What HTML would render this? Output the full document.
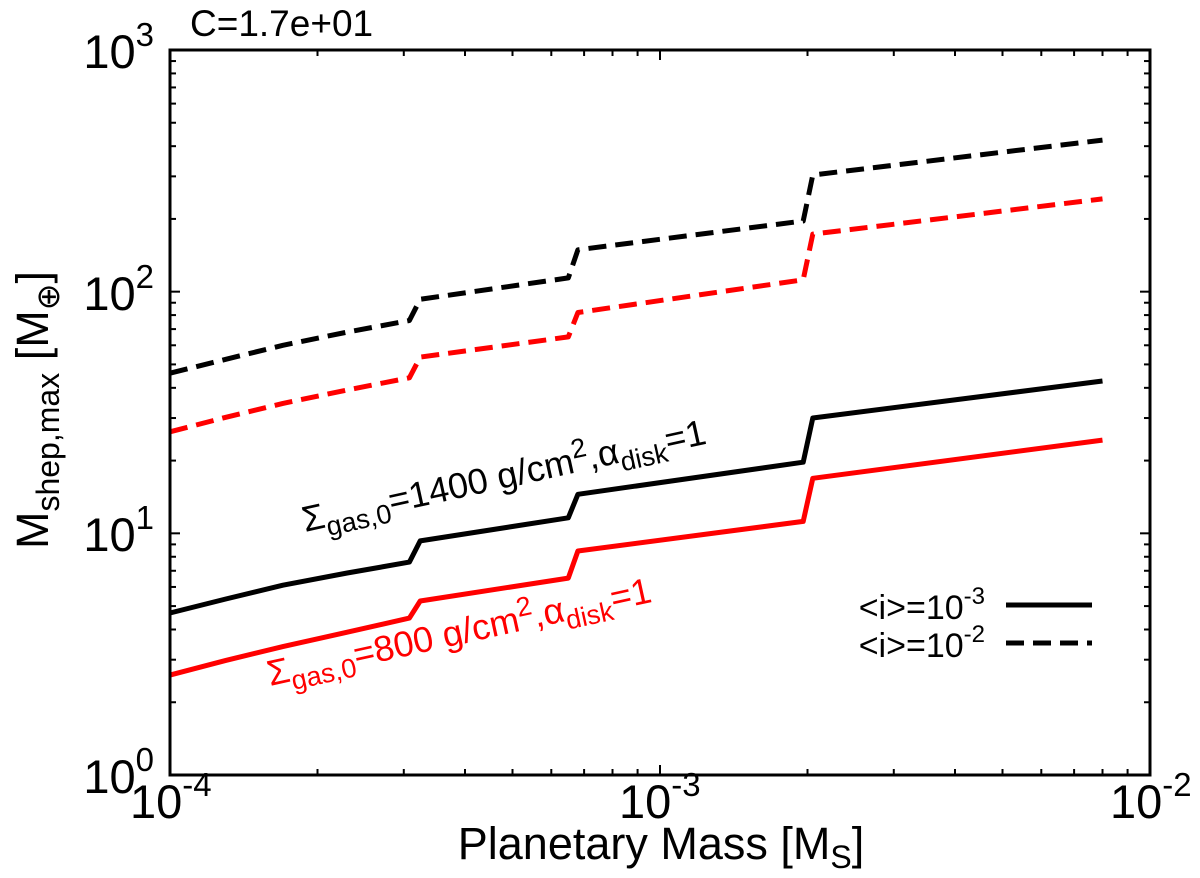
<!DOCTYPE html>
<html><head><meta charset="utf-8"><style>
html,body{margin:0;padding:0;background:#fff;}
svg{display:block;font-family:"Liberation Sans",Arial,sans-serif;}
</style></head><body>
<svg id="chart" width="1200" height="878" viewBox="0 0 1200 878">
<g id="ticks"></g>
<g id="series"></g>
<rect x="170" y="50" width="980" height="725" fill="none" stroke="#000" stroke-width="3"/>
<text x="190" y="36" font-size="37">C=1.7e+01</text>
<g font-size="47" text-anchor="end">
<text x="154" y="68">10<tspan dy="-22" font-size="33">3</tspan></text>
<text x="154" y="310">10<tspan dy="-22" font-size="33">2</tspan></text>
<text x="154" y="551">10<tspan dy="-22" font-size="33">1</tspan></text>
<text x="154" y="793">10<tspan dy="-22" font-size="33">0</tspan></text>
</g>
<g font-size="47">
<text x="130" y="818">10<tspan dy="-22" font-size="33">-4</tspan></text>
<text x="619" y="818">10<tspan dy="-22" font-size="33">-3</tspan></text>
<text x="1110" y="818">10<tspan dy="-22" font-size="33">-2</tspan></text>
</g>
<text x="661" y="859" font-size="45" text-anchor="middle">Planetary Mass [M<tspan dy="9" font-size="32">S</tspan><tspan dy="-9">]</tspan></text>
<text transform="translate(48,410) rotate(-90)" font-size="45" text-anchor="middle">M<tspan dy="11" font-size="32">shep,max</tspan><tspan dy="-11"> [M</tspan><tspan dy="11" font-size="32">⊕</tspan><tspan dy="-11">]</tspan></text>
<text transform="translate(305,532) rotate(-12.4)" font-size="36" fill="#000">Σ<tspan dy="9" font-size="27">gas,0</tspan><tspan dy="-9">=1400 g/cm</tspan><tspan dy="-14" font-size="27">2</tspan><tspan dy="14">,α</tspan><tspan dy="9" font-size="27">disk</tspan><tspan dy="-9">=1</tspan></text>
<text transform="translate(270,686) rotate(-12.4)" font-size="36" fill="#f00">Σ<tspan dy="9" font-size="27">gas,0</tspan><tspan dy="-9">=800 g/cm</tspan><tspan dy="-14" font-size="27">2</tspan><tspan dy="14">,α</tspan><tspan dy="9" font-size="27">disk</tspan><tspan dy="-9">=1</tspan></text>
<g>
<text x="985" y="619" font-size="34" text-anchor="end">&lt;i&gt;=10<tspan dy="-15" font-size="24">-3</tspan></text>
<line x1="1006" y1="605" x2="1092" y2="605" stroke="#000" stroke-width="5"/>
<text x="985" y="657" font-size="34" text-anchor="end">&lt;i&gt;=10<tspan dy="-15" font-size="24">-2</tspan></text>
<line x1="1006" y1="643" x2="1092" y2="643" stroke="#000" stroke-width="5" stroke-dasharray="18,9"/>
</g>
</svg>
<script>
const massX = [1e-4, 1.3e-4, 1.7e-4, 2.3e-4, 3.08e-4, 3.24e-4, 6.5e-4, 6.8e-4, 1.96e-3, 2.05e-3, 8e-3];
const black1400Solid = [4.68, 5.35, 6.1, 6.85, 7.6, 9.3, 11.6, 14.5, 19.7, 30, 42.7];
const red800Solid = [2.59, 2.98, 3.4, 3.9, 4.46, 5.25, 6.53, 8.45, 11.2, 16.9, 24.3];
const black1400Dashed = [46, 52.5, 60, 68, 76, 93, 114, 149, 196, 304, 424];
const red800Dashed = [26.3, 30.2, 34.5, 39.2, 44, 53.6, 65, 82, 112, 173, 242];
const X0=170,X1=1150,Y0=775,Y1=50;
function xs(v){return X0+(Math.log10(v)+4)/2*(X1-X0);}
function ys(v){return Y0-Math.log10(v)/3*(Y0-Y1);}
const NS="http://www.w3.org/2000/svg";
const sg=document.getElementById('series');
function draw(vals,color,dash,name){
  const p=document.createElementNS(NS,'path');
  p.setAttribute('d',massX.map((m,i)=>(i?'L':'M')+xs(m).toFixed(1)+','+ys(vals[i]).toFixed(1)).join(''));
  p.setAttribute('fill','none');p.setAttribute('stroke',color);p.setAttribute('stroke-width','5');
  p.setAttribute('stroke-linejoin','round');
  if(dash)p.setAttribute('stroke-dasharray','18,9');
  
  
  sg.appendChild(p);
}
draw(black1400Dashed,'#000',true,'series-1400-dashed');
draw(red800Dashed,'#f00',true,'series-800-dashed');
draw(black1400Solid,'#000',false,'series-1400-solid');
draw(red800Solid,'#f00',false,'series-800-solid');
const tg=document.getElementById('ticks');
function tick(x1,y1,x2,y2){
  const l=document.createElementNS(NS,'line');
  l.setAttribute('x1',x1);l.setAttribute('y1',y1);l.setAttribute('x2',x2);l.setAttribute('y2',y2);
  l.setAttribute('stroke','#000');l.setAttribute('stroke-width','2');
  
  
  tg.appendChild(l);
}
for(let d=0;d<3;d++)for(let k=1;k<10;k++){
  const y=ys(k*Math.pow(10,d));const L=k==1?10:6;
  tick(X0,y,X0+L,y);tick(X1,y,X1-L,y);
}
for(let d=-4;d<-2;d++)for(let k=1;k<10;k++){
  const x=xs(k*Math.pow(10,d));const L=k==1?10:6;
  tick(x,Y0,x,Y0-L);tick(x,Y1,x,Y1+L);
}
</script>
</body></html>
